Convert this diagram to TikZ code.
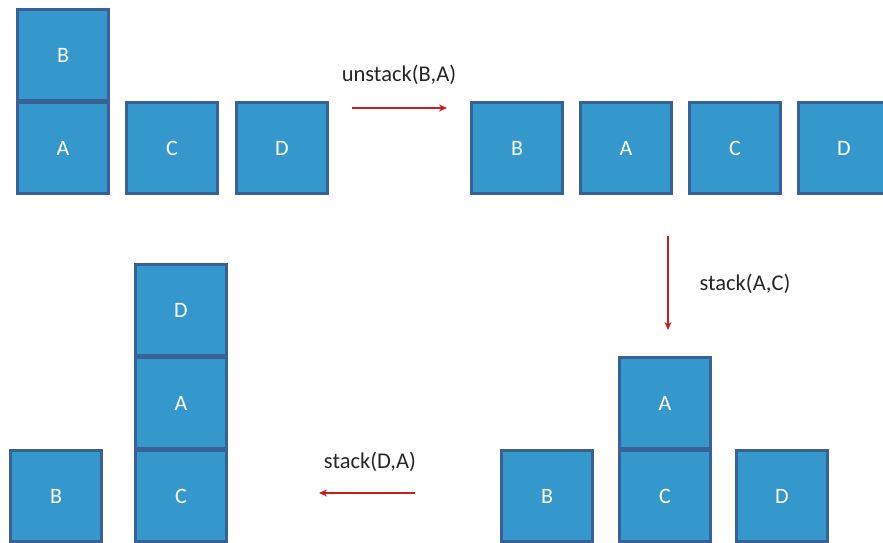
\documentclass[tikz,border=0pt]{standalone}
\usepackage{fontspec}
\usetikzlibrary{arrows.meta}
\setmainfont{Carlito}
\definecolor{blockfill}{RGB}{52,152,204}
\definecolor{blockline}{RGB}{56,98,150}
\definecolor{arrowred}{RGB}{200,30,30}
\definecolor{labeltext}{RGB}{38,38,38}

\begin{document}
\begin{tikzpicture}[x=1pt,y=-1pt]
\tikzstyle{block}=[draw=blockline,fill=blockfill,line width=3pt,minimum size=91pt,inner sep=0pt,text=white,font=\fontsize{22}{22}\selectfont]
\tikzstyle{move}=[draw=arrowred,line width=1.4pt,-{Stealth[length=8pt,width=7pt]}]
\tikzstyle{action}=[text=labeltext,font=\fontsize{22.5}{22.5}\selectfont]
\useasboundingbox (0,0) rectangle (883,543);
\clip (0,0) rectangle (883,543);
% start state
\node [block] (a1) at (63,148) {A};
\node [block] (b1) at (63,55) {B};
\node [block] (c1) at (172,148) {C};
\node [block] (d1) at (282,148) {D};
% after unstack
\node [block] (b2) at (517,148) {B};
\node [block] (a2) at (626,148) {A};
\node [block] (c2) at (735,148) {C};
\node [block] (d2) at (844,148) {D};
% after stack A on C
\node [block] (b3) at (547,496) {B};
\node [block] (c3) at (665,496) {C};
\node [block] (a3) at (665,403) {A};
\node [block] (d3) at (782,496) {D};
% after stack D on A
\node [block] (b4) at (56,496) {B};
\node [block] (c4) at (181,496) {C};
\node [block] (a4) at (181,403) {A};
\node [block] (d4) at (181,310) {D};
% moves
\coordinate (m1s) at (352,108);
\coordinate (m1e) at (447,108);
\coordinate (m2s) at (668,236);
\coordinate (m2e) at (668,330);
\coordinate (m3s) at (415,493);
\coordinate (m3e) at (319,493);
\draw [move] (m1s) -- (m1e);
\draw [move] (m2s) -- (m2e);
\draw [move] (m3s) -- (m3e);
\node [action] (l1) at (399,75) {unstack(B,A)};
\node [action] (l2) at (745,284) {stack(A,C)};
\node [action] (l3) at (370,462) {stack(D,A)};
\end{tikzpicture}
\end{document}
